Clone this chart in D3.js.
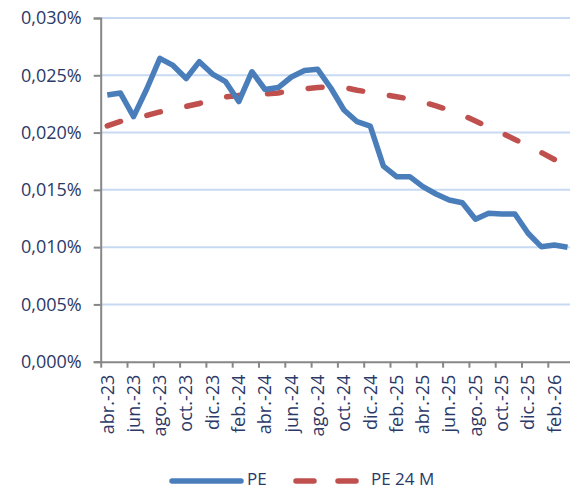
<!DOCTYPE html>
<html>
<head>
<meta charset="utf-8">
<script src="https://cdn.jsdelivr.net/npm/d3@7"></script>
<style>
  body { margin: 0; background: #fff; }
  svg text { font-family: "Open Sans", sans-serif; fill: #2b3968; }
</style>
</head>
<body>
<div class="content"></div>
<script>
const months = [
  'abr.-23', 'may.-23', 'jun.-23', 'jul.-23', 'ago.-23', 'sep.-23', 'oct.-23', 'nov.-23', 'dic.-23',
  'ene.-24', 'feb.-24', 'mar.-24', 'abr.-24', 'may.-24', 'jun.-24', 'jul.-24', 'ago.-24', 'sep.-24',
  'oct.-24', 'nov.-24', 'dic.-24', 'ene.-25', 'feb.-25', 'mar.-25', 'abr.-25', 'may.-25', 'jun.-25',
  'jul.-25', 'ago.-25', 'sep.-25', 'oct.-25', 'nov.-25', 'dic.-25', 'ene.-26', 'feb.-26', 'mar.-26'
];

// values in %
const pe = [
  0.02328, 0.02345, 0.02139, 0.02380, 0.02648, 0.02586, 0.02472, 0.02619, 0.02511,
  0.02444, 0.02271, 0.02531, 0.02376, 0.02393, 0.02485, 0.02542, 0.02552, 0.02389,
  0.02197, 0.02095, 0.02057, 0.01708, 0.01615, 0.01615, 0.01528, 0.01464, 0.01411,
  0.01388, 0.01243, 0.01295, 0.01289, 0.01289, 0.01121, 0.01004, 0.01019, 0.00999
];

const pe24m = [
  0.02058, 0.02097, 0.02123, 0.02149, 0.02180, 0.02206, 0.02228, 0.02254, 0.02289,
  0.02311, 0.02324, 0.02334, 0.02337, 0.02346, 0.02367, 0.02382, 0.02394, 0.02400,
  0.02394, 0.02369, 0.02352, 0.02332, 0.02313, 0.02293, 0.02267, 0.02232, 0.02197,
  0.02153, 0.02101, 0.02049, 0.01996, 0.01940, 0.01883, 0.01826, 0.01765, 0.01702
];

const yTicks = [0, 0.005, 0.010, 0.015, 0.020, 0.025, 0.030];

const width = 570, height = 489;
const plotLeft = 100.7, plotRight = 574.1, plotTop = 18, plotBottom = 361.7;

const svg = d3.select('div.content')
              .append('svg')
              .attr('width', width)
              .attr('height', height);

const x = d3.scaleBand()
            .domain(months)
            .range([plotLeft, plotRight])
            .padding(0);
const xb = d3.scaleLinear()
             .domain([0, months.length])
             .range([plotLeft, plotRight]);
const y = d3.scaleLinear()
            .domain([0, 0.030])
            .range([plotBottom, plotTop]);

const fmt = (d) => d3.format('.3f')(d).replace('.', ',') + '%';

// gridlines
svg.append('g')
   .selectAll('line')
   .data(yTicks.filter((d) => d > 0))
   .enter()
   .append('line')
   .attr('x1', plotLeft)
   .attr('x2', width)
   .attr('y1', (d) => y(d))
   .attr('y2', (d) => y(d))
   .attr('stroke', '#c8daf1')
   .attr('stroke-width', 2);

// y axis
const yAxis = svg.append('g')
   .attr('transform', `translate(${plotLeft},0)`)
   .call(d3.axisLeft(y).tickValues(yTicks).tickFormat(fmt).tickSize(7).tickPadding(12));
yAxis.selectAll('text').style('font-size', '18px');

// x axis: ticks at category boundaries, labels at centers
const boundaries = d3.range(0, months.length, 2);
svg.append('g')
   .attr('transform', `translate(0,${plotBottom})`)
   .call(d3.axisBottom(xb).tickValues(boundaries).tickFormat('').tickSize(6).tickSizeOuter(0));

const xLabels = svg.append('g')
   .attr('transform', `translate(0,${plotBottom})`)
   .call(d3.axisBottom(x).tickValues(months.filter((d, i) => i % 2 === 0)).tickSize(0).tickSizeOuter(0));
xLabels.select('.domain').remove();
xLabels.selectAll('text')
       .style('font-size', '18px')
       .attr('transform', 'rotate(-90)')
       .attr('text-anchor', 'end')
       .attr('x', -13)
       .attr('y', 0)
       .attr('dy', '0.35em');

svg.selectAll('.domain, .tick line')
   .attr('stroke', '#878787')
   .attr('stroke-width', 2);

const line = (vals) => d3.line()
  .x((d, i) => x(months[i]) + x.bandwidth() / 2)
  .y((d) => y(d))(vals);

svg.append('path')
   .attr('d', line(pe24m))
   .attr('fill', 'none')
   .attr('stroke', '#c0504d')
   .attr('stroke-width', 5.5)
   .attr('stroke-linecap', 'round')
   .attr('stroke-dasharray', '14,27');

svg.append('path')
   .attr('d', line(pe))
   .attr('fill', 'none')
   .attr('stroke', '#4a7ebb')
   .attr('stroke-width', 5.5)
   .attr('stroke-linejoin', 'round');

// legend
const legend = svg.append('g').attr('transform', 'translate(0,480)');
legend.append('line')
      .attr('x1', 172).attr('x2', 241).attr('y1', 1).attr('y2', 1)
      .attr('stroke', '#4a7ebb').attr('stroke-width', 5.5).attr('stroke-linecap', 'round');
legend.append('text')
      .attr('x', 247).attr('y', 0).attr('dy', '0.32em')
      .style('font-size', '17px').text('PE');
legend.append('line')
      .attr('x1', 296).attr('x2', 358).attr('y1', 1).attr('y2', 1)
      .attr('stroke', '#c0504d').attr('stroke-width', 5.5).attr('stroke-linecap', 'round')
      .attr('stroke-dasharray', '18,24');
legend.append('text')
      .attr('x', 371).attr('y', 0).attr('dy', '0.32em')
      .style('font-size', '17px').text('PE 24 M');
</script>
</body>
</html>
